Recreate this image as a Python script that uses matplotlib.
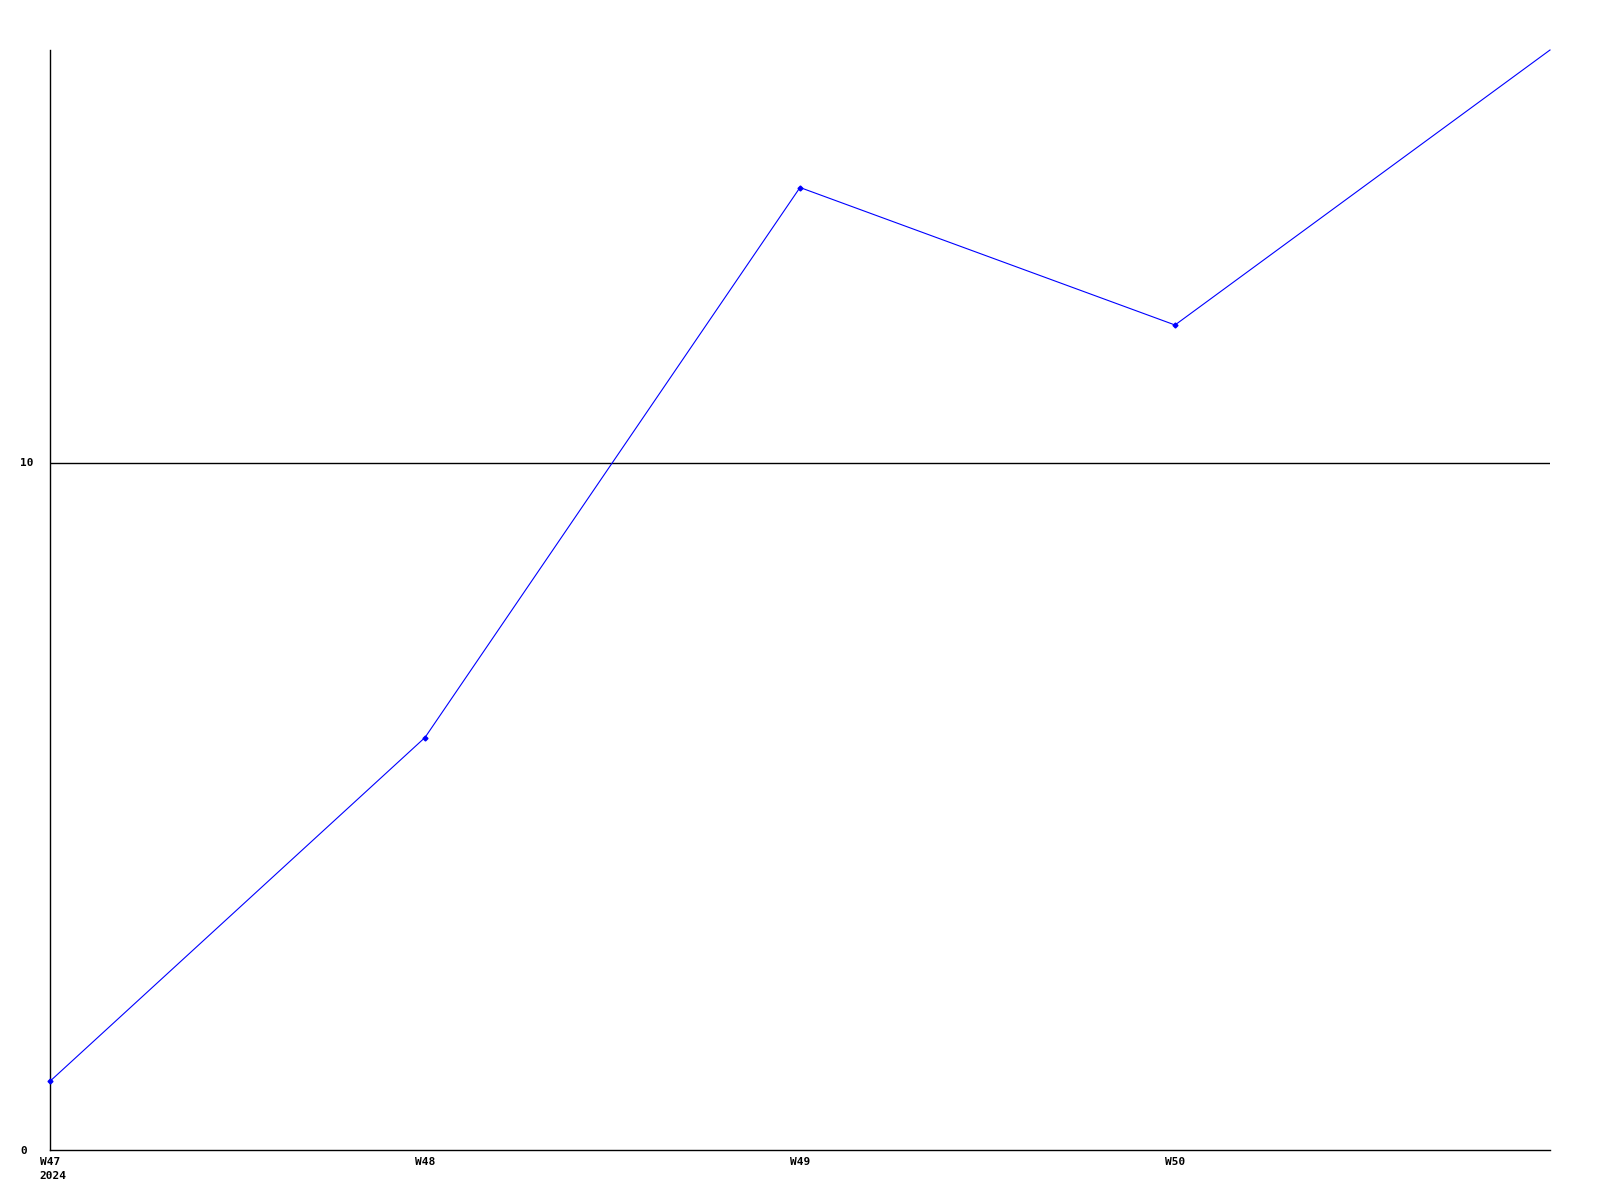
import matplotlib
matplotlib.use("Agg")
import matplotlib.pyplot as plt
from matplotlib.transforms import ScaledTranslation

weeks = ["W47", "W48", "W49", "W50", "W51"]
week_labels = ["W47\n2024", "W48", "W49", "W50"]
values = [1, 6, 14, 12, 16]
y_ticks = [0, 10]
y_tick_labels = ["0", "10"]

fig = plt.figure(figsize=(16, 12), dpi=100)
ax = fig.add_axes([50/1600, 1 - 1150/1200, 1500/1600, 1100/1200])

x = list(range(len(weeks)))
ax.plot(x, values, color="#0000ff", linewidth=0.8, zorder=3, clip_on=False)
ax.plot(x[:-1], values[:-1], linestyle="none", marker="D", markersize=2.5,
        markerfacecolor="#0000ff", markeredgecolor="#0000ff", zorder=4, clip_on=False)

ax.set_xlim(0, len(weeks) - 1)
ax.set_ylim(0, 16)

for s in ["top", "right"]:
    ax.spines[s].set_visible(False)
for s in ["left", "bottom"]:
    ax.spines[s].set_color("black")
    ax.spines[s].set_linewidth(1.0)

ax.set_yticks(y_ticks)
ax.set_yticklabels(y_tick_labels, fontfamily="DejaVu Sans Mono", fontweight="bold", fontsize=8)
for lab in ax.get_yticklabels():
    lab.set_horizontalalignment("left")
ax.tick_params(axis="y", length=0, pad=30 * 0.72)

ax.set_xticks(x[:len(week_labels)])
ax.set_xticklabels(week_labels, fontfamily="DejaVu Sans Mono", fontweight="bold", fontsize=8,
                   multialignment="left", linespacing=1.55)
ax.tick_params(axis="x", length=0, pad=5)
first = ax.get_xticklabels()[0]
first.set_transform(first.get_transform() + ScaledTranslation(3/100, 0, fig.dpi_scale_trans))

for yt in y_ticks[1:]:
    ax.axhline(yt, color="black", linewidth=1.0, zorder=1)

fig.savefig("out.png", dpi=100, facecolor="white")
